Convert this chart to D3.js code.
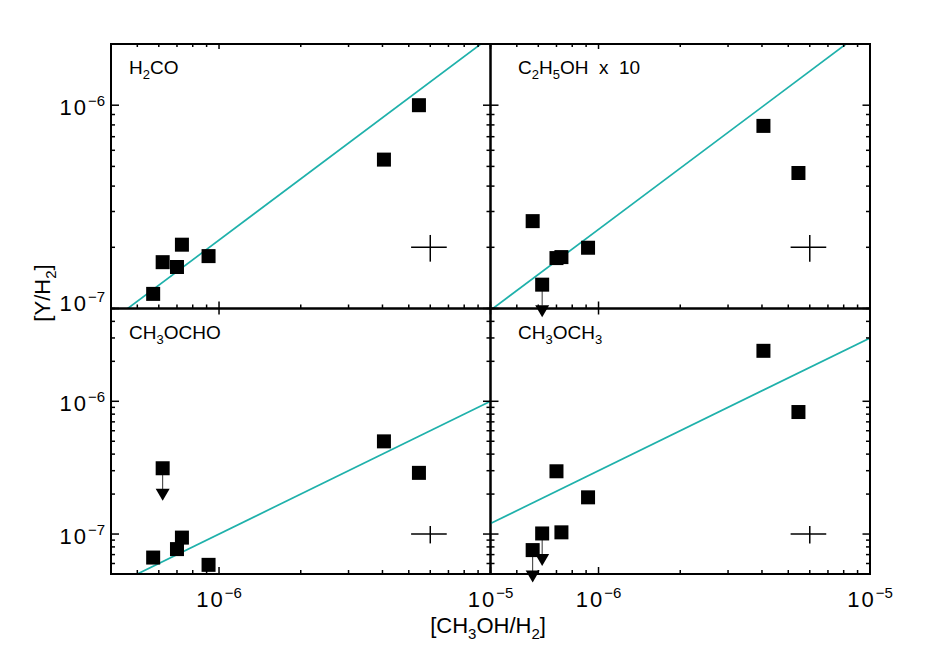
<!DOCTYPE html>
<html>
<head>
<meta charset="utf-8">
<script src="https://cdn.jsdelivr.net/npm/d3@7"></script>
<style>
  body { margin: 0; background: #fff; }
  svg text { font-family: "Liberation Sans", Arial, sans-serif; fill: #000; white-space: pre; }
</style>
</head>
<body>
<div id="chart"></div>
<script>
// CH3OH/H2 of each source (same sources in every panel)
const methanol = [5.72e-7, 6.2e-7, 7.0e-7, 7.3e-7, 9.15e-7, 4.05e-6, 5.45e-6];

// Y/H2 per molecule, same source order
const h2co    = [1.18e-7, 1.69e-7, 1.60e-7, 2.06e-7, 1.81e-7, 5.4e-7, 1.0e-6];
const c2h5oh  = [2.69e-7, 1.31e-7, 1.77e-7, 1.79e-7, 1.99e-7, 7.91e-7, 4.64e-7];
const ch3ocho = [6.65e-8, 3.13e-7, 7.7e-8, 9.4e-8, 5.86e-8, 4.99e-7, 2.89e-7];
const ch3och3 = [7.57e-8, 1.01e-7, 2.97e-7, 1.03e-7, 1.89e-7, 2.40e-6, 8.3e-7];

// upper limits (drawn with an arrow)
const h2coLim    = [0, 0, 0, 0, 0, 0, 0];
const c2h5ohLim  = [0, 1, 0, 0, 0, 0, 0];
const ch3ochoLim = [0, 1, 0, 0, 0, 0, 0];
const ch3och3Lim = [1, 1, 0, 0, 0, 0, 0];

const panelNames = ["H_2CO", "C_2H_5OH  x  10", "CH_3OCHO", "CH_3OCH_3"];
const fitRatio = [0.217, 0.245, 0.10, 0.30];   // cyan line: Y = ratio * CH3OH

// typical error bar (+/- 15%) drawn as a cross
const errX = 6e-6;
const errY = [2e-7, 2e-7, 1e-7, 1e-7];
const errFrac = 0.15;

const xDomain = [4e-7, 1e-5];
const yDomains = [[1e-7, 2e-6], [5e-8, 5e-6]];

const panelY = [h2co, c2h5oh, ch3ocho, ch3och3];
const panelLim = [h2coLim, c2h5ohLim, ch3ochoLim, ch3och3Lim];

const width = 926, height = 662;
const colLeft = [111, 490.5], colW = 379.5;
const rowTop = [44, 308.5], rowH = [264.5, 265.5];
const fitColor = "#1fb1ab";

const svg = d3.select("#chart").append("svg")
    .attr("width", width)
    .attr("height", height);

const isMajor = v => Math.abs(Math.log10(v) - Math.round(Math.log10(v))) < 1e-6;

// writes "H_2CO" style names with subscripts
function chemText(sel, str, subSize, subShift) {
  const parts = str.split(/_(\d)/);
  parts.forEach((p, k) => {
    if (!p) return;
    if (k % 2 === 1) {
      sel.append("tspan").attr("font-size", subSize).attr("dy", subShift).text(p);
    } else {
      const t = sel.append("tspan").text(p);
      if (k > 0) t.attr("dy", -subShift);
    }
  });
}

function powLabel(sel, v) {
  const e = Math.round(Math.log10(v));
  sel.append("tspan").attr("letter-spacing", 2).text("10");
  sel.append("tspan").attr("font-size", 15).attr("dy", -9).text("\u2212" + Math.abs(e));
}

function drawPanel(i) {
  const col = i % 2, row = Math.floor(i / 2);
  const x0 = colLeft[col], x1 = x0 + colW;
  const y0 = rowTop[row], y1 = y0 + rowH[row];

  const x = d3.scaleLog().domain(xDomain).range([x0, x1]);
  const y = d3.scaleLog().domain(yDomains[row]).range([y1, y0]);

  const g = svg.append("g").attr("class", "panel");

  const clipId = "clip" + i;
  svg.append("clipPath").attr("id", clipId)
    .append("rect").attr("x", x0).attr("y", y0).attr("width", colW).attr("height", rowH[row]);

  // fit line
  g.append("path")
      .datum(xDomain)
      .attr("clip-path", "url(#" + clipId + ")")
      .attr("fill", "none")
      .attr("stroke", fitColor)
      .attr("stroke-width", 1.7)
      .attr("d", d3.line().x(d => x(d)).y(d => y(fitRatio[i] * d)));

  // ticks, IDL style (pointing inward)
  const tk = g.append("g").attr("stroke", "#000").attr("stroke-width", 1.5);
  y.ticks().forEach(v => {
    const m = isMajor(v);
    tk.append("line").attr("x1", x0).attr("x2", x0 + (m ? 8 : 4)).attr("y1", y(v)).attr("y2", y(v));
    tk.append("line").attr("x1", x1).attr("x2", x1 - (m ? 7.5 : 4)).attr("y1", y(v)).attr("y2", y(v));
  });
  x.ticks().forEach(v => {
    const m = isMajor(v);
    tk.append("line").attr("x1", x(v)).attr("x2", x(v)).attr("y1", y1).attr("y2", y1 - (m ? 7 : 4));
    if (row === 0) {
      tk.append("line").attr("x1", x(v)).attr("x2", x(v)).attr("y1", y0).attr("y2", y0 + (m ? 5 : 3));
    } else if (m) {
      tk.append("line").attr("x1", x(v)).attr("x2", x(v)).attr("y1", y0).attr("y2", y0 + 6);
    }
  });

  // frame
  g.append("rect")
      .attr("x", x0).attr("y", y0)
      .attr("width", colW).attr("height", rowH[row])
      .attr("fill", "none")
      .attr("stroke", "#000")
      .attr("stroke-width", 2);

  // tick labels
  if (col === 0) {
    y.ticks().filter(isMajor).forEach(v => {
      const edge = Math.abs(y(v) - y1) < 1;
      g.append("text")
          .attr("x", x0 - 6)
          .attr("y", y(v) + (edge ? 2 : 10))
          .attr("text-anchor", "end")
          .attr("font-size", 22)
          .call(powLabel, v);
    });
  }
  if (row === 1) {
    x.ticks().filter(isMajor).forEach(v => {
      g.append("text")
          .attr("x", x(v))
          .attr("y", 607)
          .attr("text-anchor", "middle")
          .attr("font-size", 22)
          .call(powLabel, v);
    });
  }

  // panel name
  g.append("text")
      .attr("x", x0 + (col === 0 ? 18 : 27.5))
      .attr("y", y0 + 30)
      .attr("font-size", 19)
      .call(chemText, panelNames[i], 13, 5);

  // error cross
  const cr = g.append("g").attr("stroke", "#000").attr("stroke-width", 1.5);
  cr.append("line")
      .attr("x1", x(errX * (1 - errFrac))).attr("x2", x(errX * (1 + errFrac)))
      .attr("y1", y(errY[i])).attr("y2", y(errY[i]));
  cr.append("line")
      .attr("x1", x(errX)).attr("x2", x(errX))
      .attr("y1", y(errY[i] * (1 - errFrac))).attr("y2", y(errY[i] * (1 + errFrac)));

  // data points
  const pts = methanol.map((m, k) => ({x: m, y: panelY[i][k], lim: panelLim[i][k]}));
  const s = 14;
  const lims = pts.filter(d => d.lim);
  g.selectAll(".arrow").data(lims).enter().append("line")
      .attr("stroke", "#333").attr("stroke-width", 1)
      .attr("x1", d => x(d.x)).attr("x2", d => x(d.x))
      .attr("y1", d => y(d.y)).attr("y2", d => y(d.y) + 21);
  g.selectAll(".tri").data(lims).enter().append("path")
      .attr("fill", "#000")
      .attr("d", d => {
        const cx = x(d.x), ty = y(d.y) + 20.5;
        return `M${cx - 7},${ty}L${cx + 7},${ty}L${cx},${ty + 12}Z`;
      });
  g.selectAll(".sq").data(pts).enter().append("rect")
      .attr("x", d => x(d.x) - s / 2)
      .attr("y", d => y(d.y) - s / 2)
      .attr("width", s).attr("height", s)
      .attr("fill", "#000");
}

[0, 1, 2, 3].forEach(drawPanel);

// axis titles
svg.append("text")
    .attr("x", 488)
    .attr("y", 633)
    .attr("text-anchor", "middle")
    .attr("font-size", 22)
    .call(chemText, "[CH_3OH/H_2]", 15, 6);

svg.append("text")
    .attr("transform", "translate(50,293) rotate(-90)")
    .attr("text-anchor", "middle")
    .attr("font-size", 22)
    .call(chemText, "[Y/H_2]", 15, 6);
</script>
</body>
</html>
